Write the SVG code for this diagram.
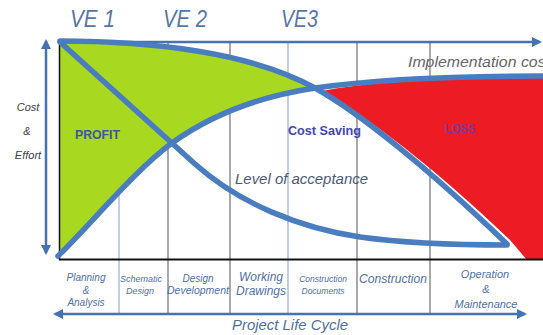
<svg xmlns="http://www.w3.org/2000/svg" width="543" height="335" viewBox="0 0 543 335">
<defs>
<marker id="ah" viewBox="0 0 10 10" refX="8" refY="5" markerWidth="4" markerHeight="4" orient="auto-start-reverse" markerUnits="strokeWidth">
<path d="M0,0 L10,5 L0,10 Z" fill="#4373B4"/>
</marker>
</defs>
<style>
.curve{fill:none;stroke:#4A7DC0;stroke-width:5.5;stroke-linecap:round;stroke-linejoin:round}
.grid-b{stroke:#A9BFDC;stroke-width:1.5}
.grid-g{stroke:#8C8C8C;stroke-width:1.5}
.axis{fill:none;stroke:#4373B4;stroke-width:2.5}
.ve{font-family:"Liberation Sans",Arial,sans-serif;font-style:italic;font-size:23px;fill:#5676A6}
.ph{font-family:"Liberation Sans",Arial,sans-serif;font-style:italic;fill:#5070A8;text-anchor:middle}
.ce{font-family:"Liberation Sans",Arial,sans-serif;font-style:italic;font-size:11px;fill:#404040;text-anchor:middle}
.lbl{font-family:"Liberation Sans",Arial,sans-serif;font-weight:bold}
.it{font-family:"Liberation Sans",Arial,sans-serif;font-style:italic}
</style>

<g id="grid">
<line class="grid-b" x1="119" y1="42" x2="119" y2="313"/>
<line class="grid-g" x1="168" y1="42" x2="168" y2="313"/>
<line class="grid-g" x1="230" y1="42" x2="230" y2="313"/>
<line class="grid-b" x1="288" y1="42" x2="288" y2="313"/>
<line class="grid-g" x1="357" y1="42" x2="357" y2="313"/>
<line class="grid-g" x1="430" y1="42" x2="430" y2="313"/>
</g>

<g id="fills">
<path d="M60,41 L60,256 L58,256 C90,225 135,170 172,143 C215,112 262,96 315,88 C250,52 150,41 60,41 Z" fill="#A8D820"/>
<path d="M322,91 C370,81 450,78 543,78 L543,260 L527,260 L510,240 C435,168 368,117 322,91 Z" fill="#ED1C24"/>
</g>

<g id="frame">
<line x1="59.5" y1="41" x2="59.5" y2="260" stroke="#111" stroke-width="1.5"/>
<line x1="59" y1="259.5" x2="543" y2="259.5" stroke="#111" stroke-width="1.8"/>
</g>

<g id="connectors">
<line class="axis" x1="59" y1="42" x2="540" y2="42" marker-end="url(#ah)"/>
<line class="axis" x1="46" y1="41" x2="46" y2="253" marker-start="url(#ah)" marker-end="url(#ah)"/>
<line class="axis" x1="55" y1="314" x2="525" y2="314" marker-start="url(#ah)" marker-end="url(#ah)"/>
<path id="implementation-cost" class="curve" d="M58,256 C90,225 135,170 172,143 C215,112 262,96 315,88 C370,80 450,76 543,76"/>
<path id="cost-saving" class="curve" d="M60,41 C150,41 250,52 315,88 C360,113 430,170 507,244"/>
<path id="level-of-acceptance" class="curve" d="M60,42 L195,164 C240,204 300,228 360,237 C410,244 460,245 507,245"/>
</g>

<g id="ve-labels">
<text class="ve" x="70" y="27" textLength="45" lengthAdjust="spacingAndGlyphs">VE 1</text>
<text class="ve" x="163" y="27" textLength="44" lengthAdjust="spacingAndGlyphs">VE 2</text>
<text class="ve" x="281" y="27" textLength="37" lengthAdjust="spacingAndGlyphs">VE3</text>
</g>

<g id="y-axis-label">
<text class="ce" x="28" y="111">Cost</text>
<text class="ce" x="27" y="135">&amp;</text>
<text class="ce" x="28" y="159">Effort</text>
</g>

<g id="region-labels">
<text class="lbl" x="75" y="139" font-size="13" fill="#3D55A0" textLength="45" lengthAdjust="spacingAndGlyphs">PROFIT</text>
<text class="lbl" x="288" y="135" font-size="13" fill="#3F48B0" textLength="73" lengthAdjust="spacingAndGlyphs">Cost Saving</text>
<text class="lbl" x="445" y="133" font-size="12" fill="#7A3C9C" textLength="30" lengthAdjust="spacingAndGlyphs">LOSS</text>
<text class="it" x="235" y="184" font-size="15" fill="#4A5A78" textLength="133" lengthAdjust="spacingAndGlyphs">Level of acceptance</text>
<text class="it" x="408" y="67" font-size="14" fill="#666" textLength="142" lengthAdjust="spacingAndGlyphs">Implementation cost</text>
</g>

<g id="phases">
<text class="ph" font-size="10" x="86" y="281">Planning</text>
<text class="ph" font-size="10" x="86" y="294">&amp;</text>
<text class="ph" font-size="10" x="86" y="306">Analysis</text>
<text class="ph" font-size="9" x="141" y="282">Schematic</text>
<text class="ph" font-size="9" x="140" y="294">Design</text>
<text class="ph" font-size="10" x="198" y="282">Design</text>
<text class="ph" font-size="10" x="198" y="294" textLength="62" lengthAdjust="spacingAndGlyphs">Development</text>
<text class="ph" font-size="12" x="261" y="281">Working</text>
<text class="ph" font-size="12" x="261" y="295">Drawings</text>
<text class="ph" font-size="8.5" x="323" y="282">Construction</text>
<text class="ph" font-size="8.5" x="323" y="294">Documents</text>
<text class="ph" font-size="12" x="393" y="283" textLength="68" lengthAdjust="spacingAndGlyphs">Construction</text>
<text class="ph" font-size="11" x="485" y="278">Operation</text>
<text class="ph" font-size="11" x="486" y="293">&amp;</text>
<text class="ph" font-size="11" x="486" y="308">Maintenance</text>
<text class="it" x="232" y="330" font-size="15" fill="#5070A0" textLength="116" lengthAdjust="spacingAndGlyphs">Project Life Cycle</text>
</g>
</svg>
